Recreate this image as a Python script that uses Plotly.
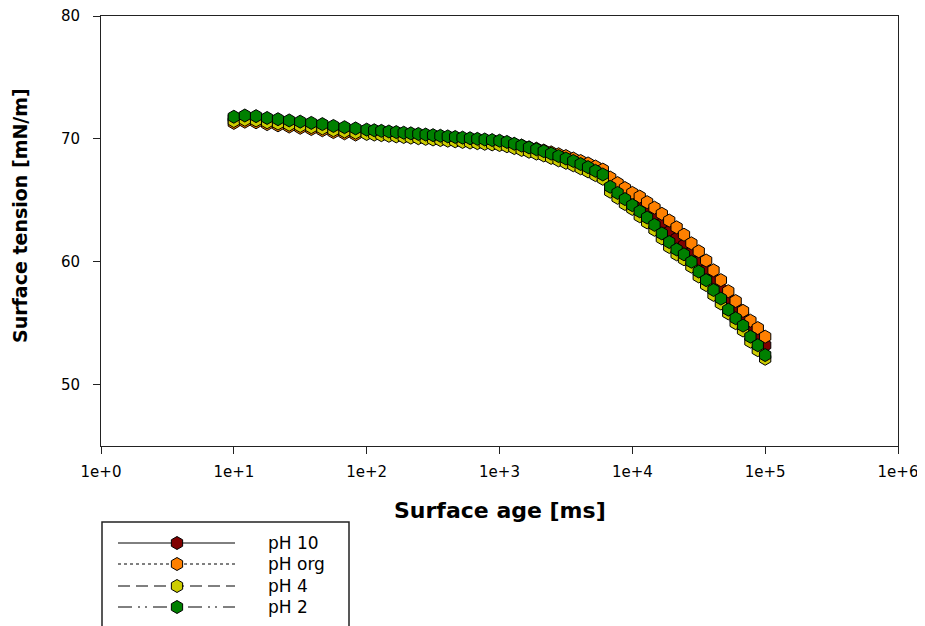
import plotly.graph_objects as go

# ---------------- data ----------------
surface_age_ms = [10, 12.1, 14.7, 17.8, 21.5, 26.1, 31.6, 38.3, 46.4, 56.2, 68.1, 82.5,
                  100, 114, 129, 147, 167, 190, 215, 245, 278, 316, 359, 408, 464, 527, 600, 681, 774, 880,
                  1000, 1137, 1292, 1468, 1668, 1896, 2154, 2448, 2783, 3162, 3594, 4084, 4642, 5275, 5995,
                  6813, 7743, 8799,
                  10000, 11370, 12920, 14680, 16680, 18960, 21540, 24480, 27830, 31620, 35940, 40840, 46420,
                  52750, 59950, 68130, 77430, 87990, 100000]

ph10 = [71.7, 71.8, 71.75, 71.6, 71.5, 71.4, 71.3, 71.2, 71.1, 70.95, 70.85, 70.75,
        70.65, 70.6, 70.55, 70.5, 70.45, 70.4, 70.35, 70.3, 70.25, 70.2, 70.15, 70.1, 70.05, 70.0, 69.95, 69.9, 69.85, 69.8,
        69.75, 69.65, 69.55, 69.4, 69.25, 69.1, 68.95, 68.8, 68.6, 68.4, 68.2, 68.0, 67.75, 67.5, 67.2, 66.5, 66.0, 65.6,
        65.2, 64.75, 64.25, 63.7, 63.1, 62.45, 61.9, 61.35, 60.75, 60.05, 59.35, 58.6, 57.8, 57.05, 56.3, 55.6, 54.8, 54.0,
        53.2]

ph_org = [71.3, 71.4, 71.35, 71.2, 71.1, 71.0, 70.9, 70.8, 70.7, 70.55, 70.45, 70.35,
          70.5, 70.45, 70.4, 70.35, 70.3, 70.25, 70.2, 70.15, 70.1, 70.05, 70.0, 69.95, 69.9, 69.85, 69.8, 69.8, 69.75, 69.75,
          69.7, 69.65, 69.55, 69.45, 69.3, 69.2, 69.05, 68.9, 68.75, 68.6, 68.4, 68.2, 68.0, 67.75, 67.5, 66.85, 66.4, 66.0,
          65.6, 65.3, 64.85, 64.4, 63.9, 63.35, 62.8, 62.2, 61.5, 60.85, 60.1, 59.3, 58.5, 57.6, 56.8, 56.0, 55.2, 54.6,
          53.9]

ph4 = [71.45, 71.55, 71.5, 71.35, 71.25, 71.15, 71.05, 70.95, 70.85, 70.7, 70.6, 70.5,
       70.4, 70.35, 70.3, 70.25, 70.2, 70.15, 70.1, 70.05, 70.0, 69.95, 69.9, 69.85, 69.8, 69.75, 69.7, 69.65, 69.6, 69.55,
       69.5, 69.4, 69.25, 69.1, 68.95, 68.8, 68.65, 68.45, 68.25, 68.05, 67.85, 67.6, 67.35, 67.05, 66.75, 65.7, 65.2, 64.7,
       64.3, 63.7, 63.2, 62.6, 61.9, 61.2, 60.6, 60.2, 59.6, 58.8, 58.1, 57.3, 56.6, 55.8, 55.0, 54.4, 53.5, 52.8,
       52.1]

ph2 = [71.8, 71.9, 71.85, 71.7, 71.6, 71.5, 71.4, 71.3, 71.2, 71.05, 70.95, 70.85,
       70.75, 70.7, 70.65, 70.6, 70.55, 70.5, 70.45, 70.4, 70.35, 70.3, 70.25, 70.2, 70.15, 70.1, 70.05, 70.0, 69.95, 69.9,
       69.85, 69.75, 69.6, 69.45, 69.3, 69.15, 69.0, 68.8, 68.6, 68.4, 68.2, 67.95, 67.7, 67.4, 67.1, 66.1, 65.6, 65.1,
       64.6, 64.1, 63.6, 63.0, 62.3, 61.6, 61.0, 60.6, 60.0, 59.2, 58.5, 57.7, 57.0, 56.1, 55.4, 54.8, 53.9, 53.2,
       52.4]

series_names = ["pH 10", "pH org", "pH 4", "pH 2"]
series_values = [ph10, ph_org, ph4, ph2]
series_colors = ["#800000", "#FF8000", "#CCCC00", "#008000"]
series_dash = ["solid", "dot", "12px,6px", "14px,6px,2px,5px,2px,6px"]

x_tick_vals = [1, 10, 100, 1000, 10000, 100000, 1000000]
x_tick_text = ["1e+0", "1e+1", "1e+2", "1e+3", "1e+4", "1e+5", "1e+6"]
y_tick_vals = [50, 60, 70, 80]

# ---------------- figure ----------------
# The page body has an 8px margin, so figure coordinates are page coordinates - 8.
OFF = 8
W, H = 925 - OFF, 626 - OFF
L = 101 - OFF                  # plot frame (page px): x 101..898, y 16..446
R = W - (898 - OFF)
T = 16 - OFF
PW = W - L - R
PH = H - T                     # b = 0; main axes use the upper part of the domain

FONT = "DejaVu Sans, Liberation Sans, Arial, sans-serif"
fig = go.Figure()

for name, vals, col, dash in zip(series_names, series_values, series_colors, series_dash):
    fig.add_trace(go.Scatter(
        x=surface_age_ms, y=vals, name=name, mode="lines+markers",
        line=dict(color="black", width=1, dash=dash),
        marker=dict(symbol="hexagon", size=13, color=col,
                    line=dict(color="black", width=1)),
        showlegend=False, xaxis="x", yaxis="y"))

# manual legend (long line samples as in the original)
leg_rows = [21, 42, 64, 85]
for name, col, dash, ry in zip(series_names, series_colors, series_dash, leg_rows):
    fig.add_trace(go.Scatter(
        x=[16, 133], y=[ry, ry], mode="lines",
        line=dict(color="black", width=1, dash=dash),
        showlegend=False, hoverinfo="skip", xaxis="x2", yaxis="y2"))
    fig.add_trace(go.Scatter(
        x=[75], y=[ry], mode="markers",
        marker=dict(symbol="hexagon", size=13, color=col, line=dict(color="black", width=1)),
        showlegend=False, hoverinfo="skip", xaxis="x2", yaxis="y2"))
    fig.add_annotation(x=164, y=ry, xref="x2", yref="y2", text=name, showarrow=False,
                       xanchor="left", yanchor="middle",
                       font=dict(family=FONT, size=17, color="black"))

y_dom = [(H - (446 - OFF)) / PH, 1.0]
leg_x_dom = [(102 - 101) / PW, (349 - 101) / PW]
leg_y_dom = [0, (H - (522 - OFF)) / PH]

axis_common = dict(ticks="outside", ticklen=7, tickwidth=1, tickcolor="#222",
                   showline=True, linecolor="#222", linewidth=1, mirror=True,
                   showgrid=False, zeroline=False, automargin=False,
                   ticklabeloverflow="allow",
                   tickfont=dict(family=FONT, size=15, color="black"))

fig.update_layout(
    width=W, height=H,
    margin=dict(l=L, r=R, t=T, b=0, pad=0, autoexpand=False),
    paper_bgcolor="white", plot_bgcolor="white",
    font=dict(family=FONT, size=15, color="black"),
    xaxis=dict(type="log", domain=[0, 1], range=[0, 6],
               tickvals=x_tick_vals, ticktext=x_tick_text,
               ticklabelstandoff=5, anchor="y", **axis_common),
    yaxis=dict(domain=y_dom, range=[45, 80], tickvals=y_tick_vals,
               ticklabelstandoff=10, anchor="x", **axis_common),
    xaxis2=dict(domain=leg_x_dom, range=[0, 247], visible=False,
                fixedrange=True, anchor="y2"),
    yaxis2=dict(domain=leg_y_dom, range=[104, 0], visible=False,
                fixedrange=True, anchor="x2"),
)

# legend frame (its bottom edge lies outside the page, as in the original)
fig.add_shape(type="rect", xref="paper", yref="paper",
              x0=leg_x_dom[0], x1=leg_x_dom[1], y0=-0.05, y1=leg_y_dom[1],
              line=dict(color="#222", width=1.5), fillcolor="rgba(0,0,0,0)", layer="below")

# axis titles
fig.add_annotation(x=(500 - 101) / PW, y=(H - (510 - OFF)) / PH, xref="paper", yref="paper",
                   text="<b>Surface age [ms]</b>", showarrow=False,
                   xanchor="center", yanchor="middle",
                   font=dict(family=FONT, size=22, color="black"))
fig.add_annotation(x=(20 - 101) / PW, y=(H - (216 - OFF)) / PH, xref="paper", yref="paper",
                   text="<b>Surface tension [mN/m]</b>", showarrow=False, textangle=-90,
                   xanchor="center", yanchor="middle",
                   font=dict(family=FONT, size=19, color="black"))

fig.write_html("out.html")
